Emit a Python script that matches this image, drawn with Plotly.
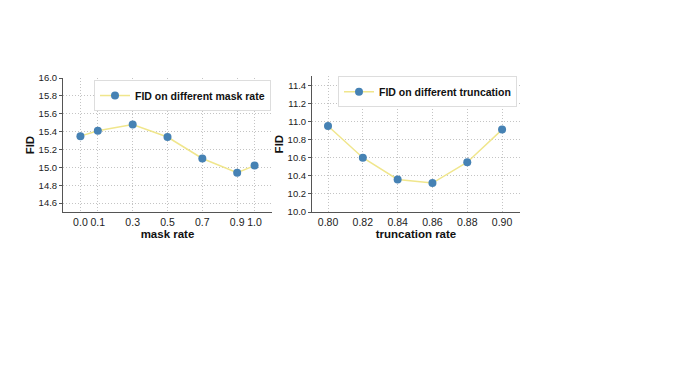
import plotly.graph_objects as go

mask_rate = [0.0, 0.1, 0.3, 0.5, 0.7, 0.9, 1.0]
mask_fid = [15.35, 15.41, 15.48, 15.34, 15.10, 14.94, 15.02]
mask_ticks = ["0.0", "0.1", "0.3", "0.5", "0.7", "0.9", "1.0"]

trunc_rate = [0.80, 0.82, 0.84, 0.86, 0.88, 0.90]
trunc_fid = [10.95, 10.60, 10.36, 10.32, 10.55, 10.91]
trunc_ticks = ["0.80", "0.82", "0.84", "0.86", "0.88", "0.90"]

W, H = 677, 379
OFF = 8  # browser body margin
font = "Liberation Sans, Arial, sans-serif"
line_col = "#F0E68C"
dot_col = "#4682B4"


def px(x):
    return (x - OFF) / W


def py(y):
    return 1 - (y - OFF) / H


fig = go.Figure()
fig.add_trace(go.Scatter(x=mask_rate, y=mask_fid, mode="lines+markers",
                         name="FID on different mask rate", showlegend=True,
                         line=dict(color=line_col, width=1.5),
                         marker=dict(color=dot_col, size=8),
                         xaxis="x", yaxis="y", legend="legend"))
fig.add_trace(go.Scatter(x=trunc_rate, y=trunc_fid, mode="lines+markers",
                         name="FID on different truncation", showlegend=True,
                         line=dict(color=line_col, width=1.5),
                         marker=dict(color=dot_col, size=8),
                         xaxis="x2", yaxis="y2", legend="legend2"))

grid = dict(showline=True, linecolor="#555", linewidth=1, showgrid=True,
            gridcolor="#c4c4c4", griddash="1px,2px", gridwidth=1, zeroline=False,
            tickcolor="#555")
xax = dict(grid, ticks="", ticklen=0, tickfont=dict(size=10.5, color="#222"))
yax = dict(grid, ticks="outside", ticklen=3, tickfont=dict(size=9.5, color="#222"))
ttl = dict(size=11.5, color="#111", family=font, weight="bold")
leg = dict(xanchor="right", yanchor="top", bgcolor="white",
           bordercolor="#ddd", borderwidth=1,
           font=dict(size=10.5, color="#111", family=font, weight="bold"),
           itemwidth=30, tracegroupgap=0)

fig.update_layout(
    width=W, height=H, margin=dict(l=0, r=0, t=0, b=0),
    paper_bgcolor="white", plot_bgcolor="white",
    font=dict(family=font), showlegend=True,
    xaxis=dict(xax, domain=[px(63), px(272)], range=[-0.1, 1.1],
               tickvals=mask_rate, ticktext=mask_ticks,
               title=dict(text="mask rate", font=ttl, standoff=0), anchor="y"),
    yaxis=dict(yax, domain=[py(212), py(74)], range=[14.5, 16.0],
               dtick=0.2, tick0=14.6, tickformat=".1f",
               title=dict(text="FID", font=ttl, standoff=1), anchor="x"),
    xaxis2=dict(xax, domain=[px(312), px(520)], range=[0.7908, 0.9103],
                tickvals=trunc_rate, ticktext=trunc_ticks,
                title=dict(text="truncation rate", font=ttl, standoff=0), anchor="y2"),
    yaxis2=dict(yax, domain=[py(212), py(72)], range=[10.0, 11.5],
                dtick=0.2, tick0=10.0, tickformat=".1f",
                title=dict(text="FID", font=ttl, standoff=1), anchor="x2"),
    legend=dict(leg, x=px(271), y=py(76)),
    legend2=dict(leg, x=px(517), y=py(72)),
)

fig.write_html("out.html")
